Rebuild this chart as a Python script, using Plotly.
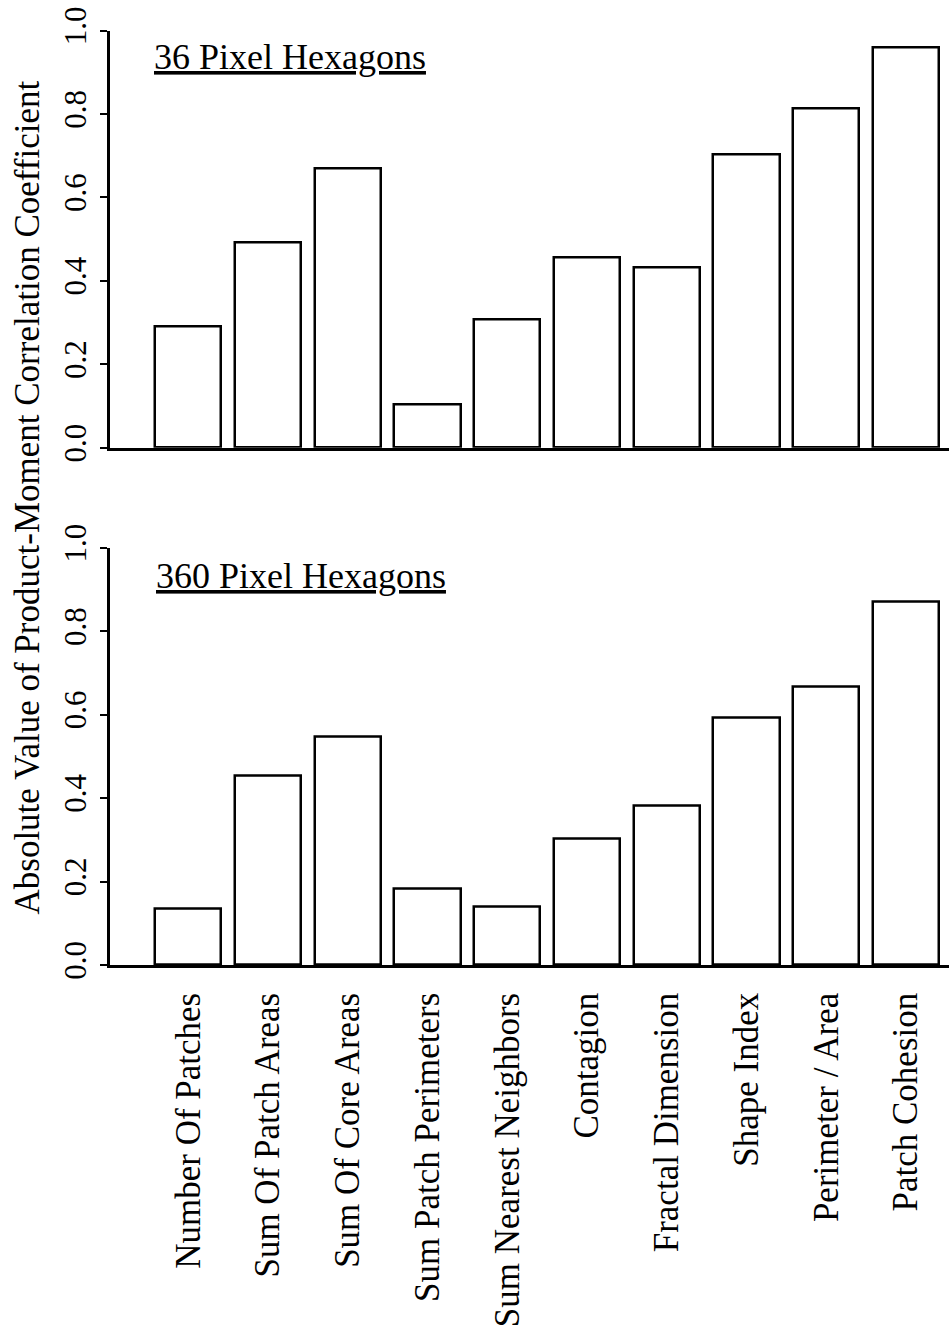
import plotly.graph_objects as go
from plotly.subplots import make_subplots

# Landscape metrics compared against the reference surface
metrics = [
    "Number Of Patches",
    "Sum Of Patch Areas",
    "Sum Of Core Areas",
    "Sum Patch Perimeters",
    "Sum Nearest Neighbors",
    "Contagion",
    "Fractal Dimension",
    "Shape Index",
    "Perimeter / Area",
    "Patch Cohesion",
]

# |r| for each metric at the two hexagon sizes
corr_36px = [0.290, 0.493, 0.670, 0.104, 0.307, 0.456, 0.433, 0.703, 0.812, 0.960]
corr_360px = [0.134, 0.453, 0.546, 0.183, 0.140, 0.303, 0.381, 0.593, 0.667, 0.871]

panel_titles = ["36 Pixel Hexagons", "360 Pixel Hexagons"]
y_ticks = [0.0, 0.2, 0.4, 0.6, 0.8, 1.0]
y_title = "Absolute Value of Product-Moment Correlation Coefficient"

W, H = 949, 1332
ML = 110  # left margin in px
PW = W - ML

FONT = "Liberation Serif"


def fx(px):
    return (px - ML) / PW


def fy(py):
    return 1 - py / H


fig = make_subplots(rows=2, cols=1, shared_xaxes=False, vertical_spacing=0.05)

for row, vals in enumerate([corr_36px, corr_360px], start=1):
    fig.add_trace(
        go.Bar(
            x=list(range(len(metrics))),
            y=vals,
            width=0.83,
            marker=dict(color="white", line=dict(color="black", width=2.5)),
            showlegend=False,
            hoverinfo="skip",
        ),
        row=row,
        col=1,
    )

y_domains = [[fy(447.7), fy(30.5)], [fy(965), fy(547.7)]]

for i in range(2):
    ax = "" if i == 0 else str(i + 1)
    fig.layout["xaxis" + ax].update(
        domain=[0, 1],
        range=[-0.98, 9.54],
        tickmode="array",
        tickvals=list(range(len(metrics))),
        ticktext=metrics if i == 1 else [""] * len(metrics),
        showticklabels=(i == 1),
        tickangle=-90,
        ticks="",
        showline=True,
        linecolor="black",
        linewidth=2.5,
        showgrid=False,
        zeroline=False,
        ticklabelstandoff=11,
        tickfont=dict(family=FONT, size=35, color="black"),
    )
    fig.layout["yaxis" + ax].update(
        domain=y_domains[i],
        range=[0, 1],
        tickmode="array",
        tickvals=y_ticks,
        ticktext=[f"{v:.1f}" for v in y_ticks],
        tickangle=-90,
        ticks="outside",
        ticklen=7,
        tickwidth=2,
        tickcolor="black",
        showline=True,
        linecolor="black",
        linewidth=2.5,
        showgrid=False,
        zeroline=False,
        ticklabelstandoff=2,
        tickfont=dict(family=FONT, size=31, color="black"),
    )

annotations = [
    dict(
        text=y_title,
        xref="paper",
        yref="paper",
        x=fx(27),
        y=fy(497.5),
        xanchor="center",
        yanchor="middle",
        textangle=-90,
        showarrow=False,
        font=dict(family=FONT, size=35, color="black"),
    ),
    dict(
        text="<u>" + panel_titles[0] + "</u>",
        xref="paper",
        yref="paper",
        x=fx(152),
        y=fy(57),
        xanchor="left",
        yanchor="middle",
        showarrow=False,
        font=dict(family=FONT, size=36, color="black"),
    ),
    dict(
        text="<u>" + panel_titles[1] + "</u>",
        xref="paper",
        yref="paper",
        x=fx(154),
        y=fy(576),
        xanchor="left",
        yanchor="middle",
        showarrow=False,
        font=dict(family=FONT, size=36, color="black"),
    ),
]

fig.update_layout(
    width=W,
    height=H,
    margin=dict(l=ML, r=0, t=0, b=0, autoexpand=False),
    paper_bgcolor="white",
    plot_bgcolor="white",
    annotations=annotations,
    bargap=0,
)

fig.write_html("out.html")
